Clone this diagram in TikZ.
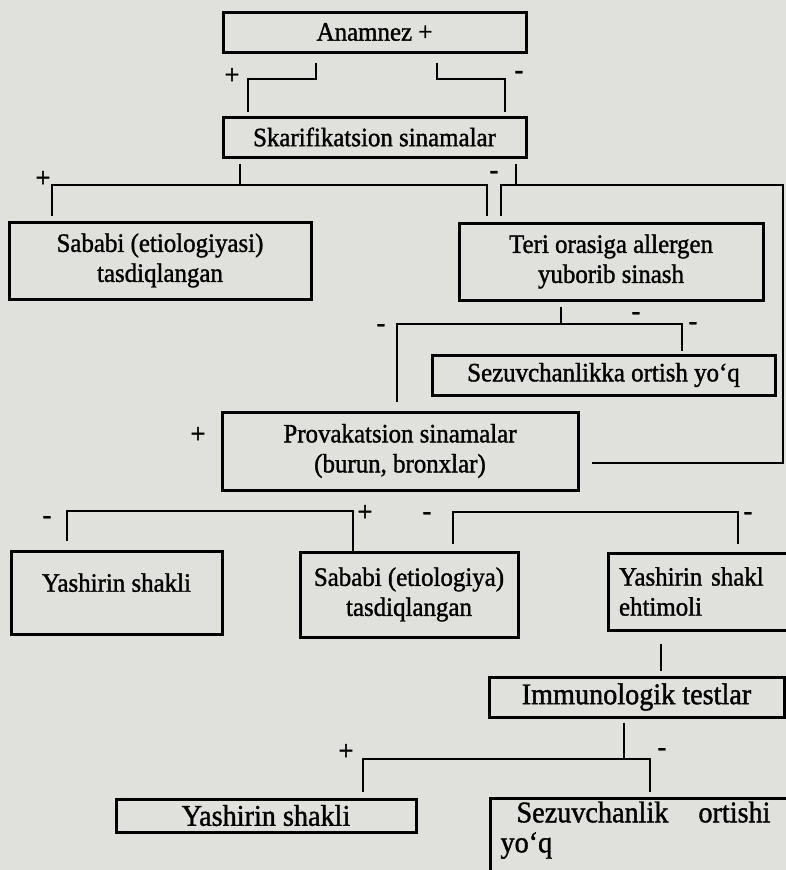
\documentclass[tikz,border=0pt]{standalone}
\usepackage{fontspec}
\setmainfont{Liberation Serif}[FakeStretch=0.94, FakeBold=1.3]
\definecolor{paper}{RGB}{224,224,221}
\begin{document}
\begin{tikzpicture}[x=1pt,y=-1pt,
 box/.style={draw=black, line width=3pt, inner sep=0pt, align=center, font=\fontsize{26.5}{30}\selectfont},
 bigbox/.style={box, font=\fontsize{30}{30}\selectfont},
 conn/.style={draw=black, line width=2pt},
 lbl/.style={font=\fontsize{28}{28}\selectfont, inner sep=0pt}]
\useasboundingbox (0,0) rectangle (786,870);
\fill[paper] (0,0) rectangle (786,870);
\clip (0,0) rectangle (786,870);

% boxes
\node[box, minimum width=303pt, minimum height=40pt] (anam) at (374.5,32) {Anamnez +};
\node[box, minimum width=303pt, minimum height=40pt] (skar) at (374.5,137) {Skarifikatsion sinamalar};
\node[box, minimum width=302pt, minimum height=77pt] (sab1) at (160,260.5) {Sababi (etiologiyasi)\\tasdiqlangan};
\node[box, minimum width=304pt, minimum height=77pt] (teri) at (611,261.5) {Teri orasiga allergen\\yuborib sinash};
\node[box, minimum width=343pt, minimum height=40pt] (sez1) at (603.5,375) {Sezuvchanlikka ortish yo‘q};
\node[box, minimum width=356pt, minimum height=78pt] (prov) at (400,451) {Provakatsion sinamalar\\(burun, bronxlar)};
\node[box, minimum width=211pt, minimum height=83pt] (yash1) at (116.5,592.5) {\raisebox{20pt}{Yashirin shakli}};
\node[box, minimum width=218pt, minimum height=85pt] (sab2) at (409,594.5) {Sababi (etiologiya)\\tasdiqlangan};
\node[box, minimum width=184pt, minimum height=77pt, text width=162pt, align=left] (yash2) at (700,591.5) {Yashirin shakl\\ehtimoli};
\node[bigbox, minimum width=295pt, minimum height=40pt] (immu) at (636.5,697) {Immunologik testlar};
\node[bigbox, minimum width=300pt, minimum height=33pt] (yash3) at (266,815.5) {Yashirin shakli};
\node[bigbox, anchor=north west, text width=285pt, align=left, inner xsep=10pt, inner ysep=3pt] (sez2) at (489,797) {\hspace*{16pt}Sezuvchanlik\hspace{30pt}ortishi\\yo‘q\\\rule{0pt}{40pt}};

% Anamnez -> Skarifikatsion
\coordinate (a1) at (316,79); \coordinate (a2) at (248,79);
\draw[conn, shorten <=9pt, shorten >=4pt] (a1 |- anam.south) -- (a1) -- (a2) -- (a2 |- skar.north);
\node[lbl] (lA) at (232,76) {+};
\coordinate (b1) at (437,79); \coordinate (b2) at (505,79);
\draw[conn, shorten <=9pt, shorten >=4pt] (b1 |- anam.south) -- (b1) -- (b2) -- (b2 |- skar.north);
\node[lbl] (lB) at (519,75) {-};

% Skarifikatsion + branch
\coordinate (c0) at (240,185); \coordinate (c1) at (52,185); \coordinate (c2) at (487,185);
\draw[conn, shorten <=5pt] (c0 |- skar.south) -- (c0);
\draw[conn, shorten <=5pt, shorten >=6pt] (c1 |- sab1.north) -- (c1) -- (c2) -- (c2 |- teri.north);
\node[lbl] (lC) at (43,179) {+};
\node[lbl] (lD) at (494,175) {-};

% Skarifikatsion - branch
\coordinate (d0) at (516,185); \coordinate (d1) at (501,185); \coordinate (d2) at (783,185); \coordinate (d3) at (783,463);
\draw[conn, shorten <=5pt] (d0 |- skar.south) -- (d0);
\draw[conn, shorten <=6pt, shorten >=12pt] (d1 |- teri.north) -- (d1) -- (d2) -- (d3) -- (prov.east |- d3);

% Teri -> Provakatsion / Sezuvchanlikka
\coordinate (e0) at (561,324); \coordinate (e1) at (397,324); \coordinate (e2) at (682,324);
\draw[conn, shorten <=5pt] (e0 |- teri.south) -- (e0);
\draw[conn, shorten <=9pt, shorten >=3pt] (e1 |- prov.north) -- (e1) -- (e2) -- (e2 |- sez1.north);
\node[lbl] (lE) at (381,328) {-};
\node[lbl] (lF) at (636,316) {-};
\node[lbl] (lG) at (693,326) {-};
\node[lbl] (lH) at (198,435) {+};

% Provakatsion results
\coordinate (f1) at (67,511); \coordinate (f2) at (353,511);
\draw[conn, shorten <=9pt] (f1 |- yash1.north) -- (f1) -- (f2) -- (f2 |- sab2.north);
\node[lbl] (lI) at (47,520) {-};
\node[lbl] (lJ) at (365,513) {+};
\coordinate (g1) at (453,512); \coordinate (g2) at (738,512);
\draw[conn, shorten <=7pt, shorten >=8pt] (g1 |- sab2.north) -- (g1) -- (g2) -- (g2 |- yash2.north);
\node[lbl] (lK) at (427,516) {-};
\node[lbl] (lL) at (748,516) {-};

% Yashirin shakl ehtimoli -> Immunologik
\coordinate (h0) at (661,650);
\draw[conn, shorten <=12pt, shorten >=5pt] (h0 |- yash2.south) -- (h0 |- immu.north);

% Immunologik -> results
\coordinate (i0) at (624,759); \coordinate (i1) at (363,759); \coordinate (i2) at (650,759);
\draw[conn, shorten <=4pt] (i0 |- immu.south) -- (i0);
\draw[conn, shorten <=6pt, shorten >=5pt] (i1 |- yash3.north) -- (i1) -- (i2) -- (i2 |- sez2.north);
\node[lbl] (lM) at (346,752) {+};
\node[lbl] (lN) at (662,752) {-};
\end{tikzpicture}
\end{document}
